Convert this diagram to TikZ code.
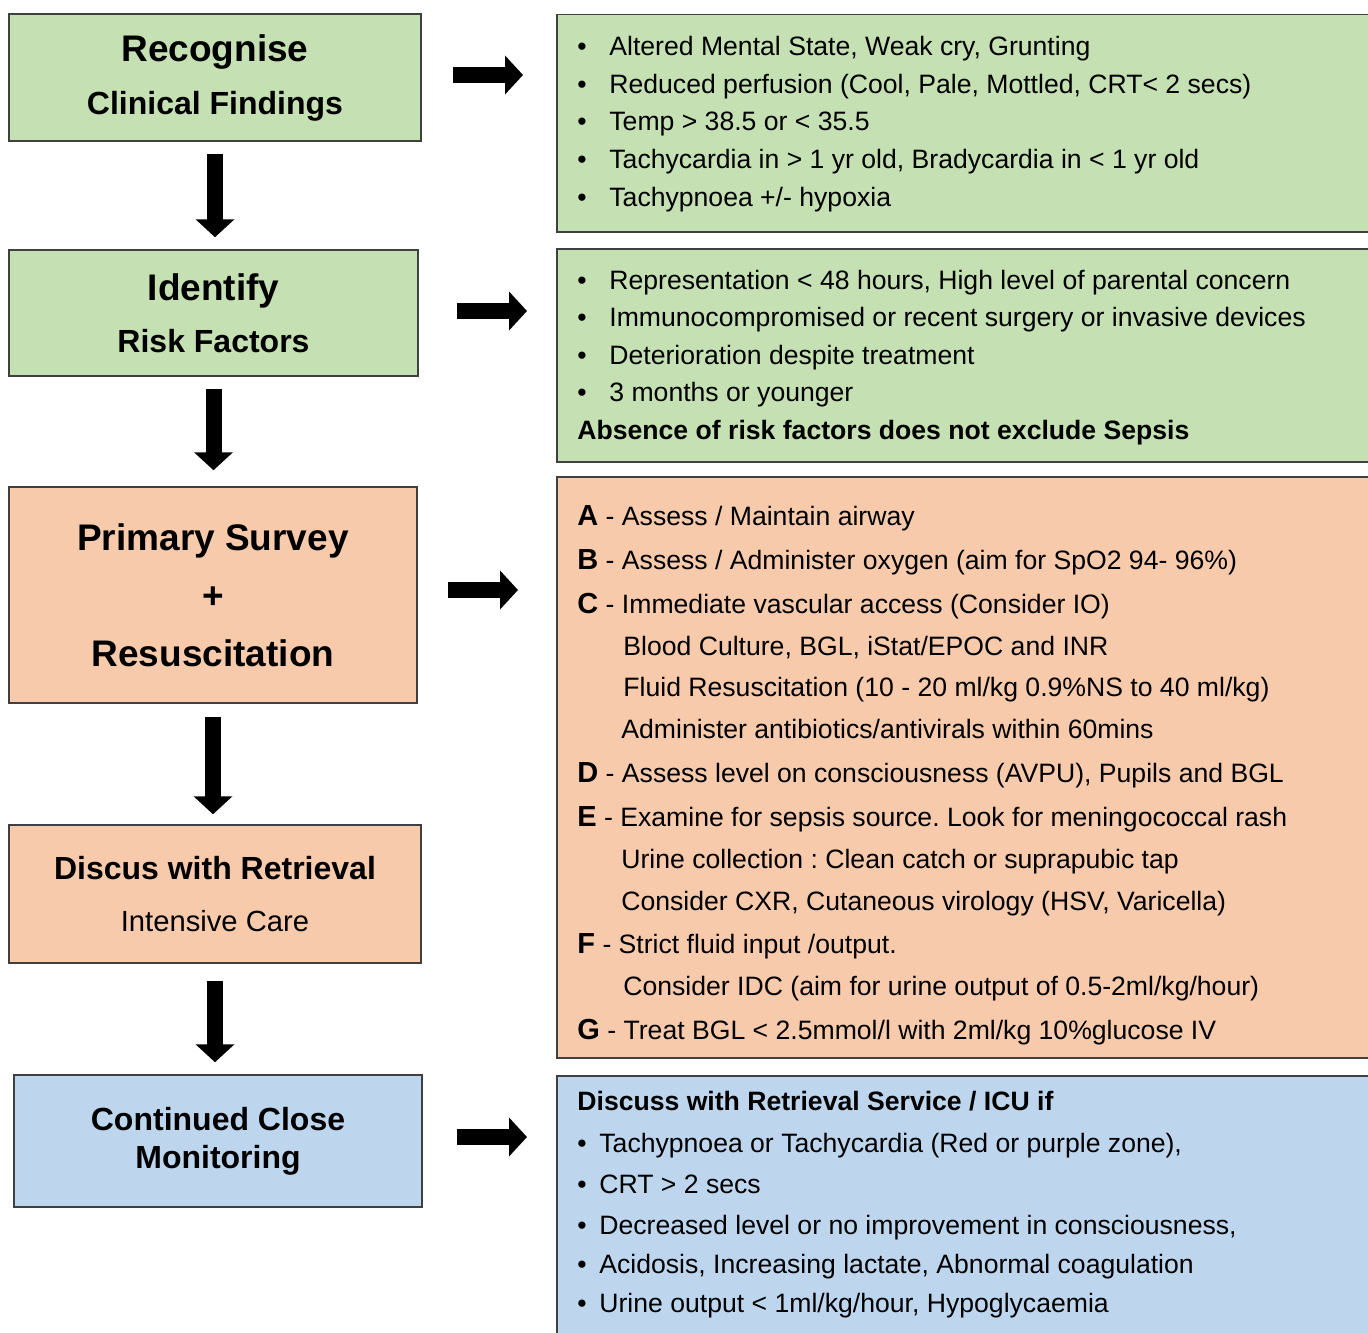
\documentclass[tikz,border=0pt]{standalone}
\usepackage{fontspec}
\setmainfont{Liberation Sans}
\usetikzlibrary{arrows.meta,positioning}
\frenchspacing

\definecolor{boxgreen}{HTML}{C5E0B3}
\definecolor{boxorange}{HTML}{F7CAAC}
\definecolor{boxblue}{HTML}{BDD6EE}
\definecolor{boxline}{HTML}{404040}

\newcommand{\headfont}{\fontsize{18.5}{22}\selectfont\bfseries}
\newcommand{\subfont}{\fontsize{16}{19}\selectfont\bfseries}
\newcommand{\bodyfont}{\fontsize{13.3}{16}\selectfont}
\newcommand{\letr}[1]{{\fontsize{14.5}{16}\selectfont\bfseries #1}}

\begin{document}
\begin{tikzpicture}[%
    x=0.5pt, y=-0.5pt,
    box/.style={draw=boxline, line width=0.75pt, align=center, inner sep=0pt},
    panel/.style={box, anchor=north west, minimum width=420pt},
    blk/.style={line width=8pt, -{Triangle[width=19pt,length=9pt]}},
    line/.style={anchor=base west, inner sep=0pt, font=\bodyfont},
    dot/.style={line, font=\bodyfont}
  ]
    \useasboundingbox (0,0) rectangle (1368,1332);
    \clip (0,0) rectangle (1368,1332);

    % left column
    \node[box, fill=boxgreen, minimum width=206pt, minimum height=63.5pt, font=\headfont]
      (rec) at (215,77.5) {Recognise\\[4.5pt]{\subfont Clinical Findings}};
    \node[box, fill=boxgreen, minimum width=204.5pt, minimum height=63pt, font=\headfont]
      (id) at (213.5,313) {Identify\\[4pt]{\subfont Risk Factors}};
    \node[box, fill=boxorange, minimum width=204pt, minimum height=108pt, font=\headfont]
      (prim) at (213,595) {Primary Survey\\[7pt]+\\[7pt]Resuscitation};
    \node[box, fill=boxorange, minimum width=206pt, minimum height=69pt, font=\subfont]
      (disc) at (215,894) {Discus with Retrieval\\[7pt]{\fontsize{14.6}{17}\selectfont\mdseries Intensive Care}};
    \node[box, fill=boxblue, minimum width=204pt, minimum height=66pt, font=\subfont]
      (cont) at (218,1141) {Continued Close\\Monitoring};

    % right column
    \node[panel, fill=boxgreen, minimum height=108.5pt] (f1) at (556,14) {};
    \node[panel, fill=boxgreen, minimum height=106.5pt] (f2) at (556,248) {};
    \node[panel, fill=boxorange, minimum height=290.5pt] (f3) at (556,476) {};
    \node[panel, fill=boxblue, minimum height=140pt] (f4) at (556,1075) {};

    % arrows down
    \draw[blk, shorten <=6pt, shorten >=6pt] (rec.south) -- (rec.south |- id.north);
    \draw[blk, shorten <=6pt, shorten >=8pt] (id.south) -- (id.south |- prim.north);
    \draw[blk, shorten <=6.5pt, shorten >=5pt] (prim.south) -- (prim.south |- disc.north);
    \draw[blk, shorten <=8.5pt, shorten >=6pt] (disc.south) -- (disc.south |- cont.north);

    % arrows right
    \draw[blk, shorten <=15.5pt, shorten >=16.5pt] ([yshift=1.25pt]rec.east) -- ([yshift=1.25pt]rec.east -| f1.west);
    \draw[blk, shorten <=19pt, shorten >=14.5pt] ([yshift=1pt]id.east) -- ([yshift=1pt]id.east -| f2.west);
    \draw[blk, shorten <=15pt, shorten >=19pt] ([yshift=2.5pt]prim.east) -- ([yshift=2.5pt]prim.east -| f3.west);
    \draw[blk, shorten <=17pt, shorten >=14.5pt] ([yshift=2pt]cont.east) -- ([yshift=2pt]cont.east -| f4.west);

    % clinical findings
    \foreach \yy/\txt [count=\i] in {
        56/{Altered Mental State, Weak cry, Grunting},
        93.5/{Reduced perfusion (Cool, Pale, Mottled, CRT< 2 secs)},
        131/{Temp > 38.5 or < 35.5},
        168.5/{Tachycardia in > 1 yr old, Bradycardia in < 1 yr old},
        206/{Tachypnoea +/- hypoxia}} {
      \node[dot] (fa\i d) at (577,\yy) {•};
      \node[line] (fa\i) at (609,\yy) {\txt};
    }

    % risk factors
    \foreach \yy/\txt [count=\i] in {
        289/{Representation < 48 hours, High level of parental concern},
        326.5/{Immunocompromised or recent surgery or invasive devices},
        364/{Deterioration despite treatment},
        401.5/{3 months or younger}} {
      \node[dot] (fb\i d) at (577,\yy) {•};
      \node[line] (fb\i) at (609,\yy) {\txt};
    }
    \node[line, font=\bodyfont\bfseries] (fb5) at (577,439) {Absence of risk factors does not exclude Sepsis};

    % primary survey
    \node[line] (c1) at (577,525) {\letr{A} - Assess / Maintain airway};
    \node[line] (c2) at (577,569) {\letr{B} - Assess / Administer oxygen (aim for SpO2 94- 96\%)};
    \node[line] (c3) at (577,613) {\letr{C} - Immediate vascular access (Consider IO)};
    \node[line] (c4) at (623,655) {Blood Culture, BGL, iStat/EPOC and INR};
    \node[line] (c5) at (623,696) {Fluid Resuscitation (10 - 20 ml/kg 0.9\%NS to 40 ml/kg)};
    \node[line] (c6) at (621,738) {Administer antibiotics/antivirals within 60mins};
    \node[line] (c7) at (577,782) {\letr{D} - Assess level on consciousness (AVPU), Pupils and BGL};
    \node[line] (c8) at (577,826) {\letr{E} - Examine for sepsis source. Look for meningococcal rash};
    \node[line] (c9) at (621,868) {Urine collection : Clean catch or suprapubic tap};
    \node[line] (c10) at (621,910) {Consider CXR, Cutaneous virology (HSV, Varicella)};
    \node[line] (c11) at (577,953) {\letr{F} - Strict fluid input /output.};
    \node[line] (c12) at (623,995) {Consider IDC (aim for urine output of 0.5-2ml/kg/hour)};
    \node[line] (c13) at (577,1039) {\letr{G} - Treat BGL < 2.5mmol/l with 2ml/kg 10\%glucose IV};

    % escalation
    \node[line, font=\bodyfont\bfseries] (e0) at (577,1110.5) {Discuss with Retrieval Service / ICU if};
    \foreach \yy/\txt [count=\i] in {
        1152.5/{Tachypnoea or Tachycardia (Red or purple zone),},
        1193.5/{CRT > 2 secs},
        1234.5/{Decreased level or no improvement in consciousness,},
        1273.5/{Acidosis, Increasing lactate, Abnormal coagulation},
        1312.5/{Urine output < 1ml/kg/hour, Hypoglycaemia}} {
      \node[dot] (e\i d) at (577,\yy) {•};
      \node[line] (e\i) at (599,\yy) {\txt};
    }
\end{tikzpicture}
\end{document}
